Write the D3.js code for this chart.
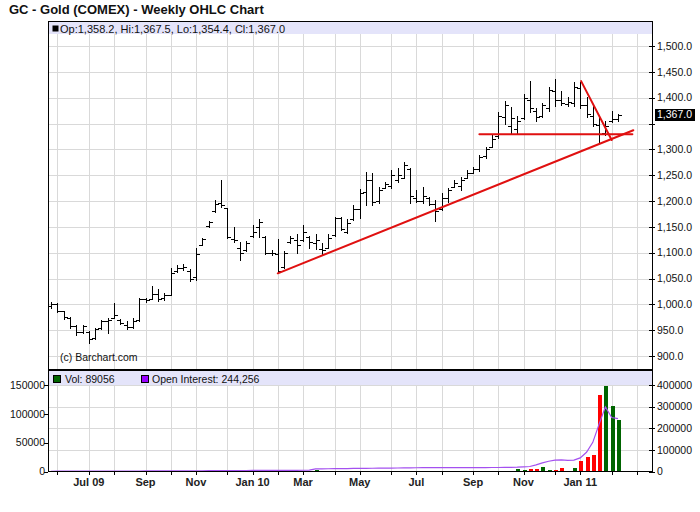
<!DOCTYPE html>
<html>
<head>
<meta charset="utf-8">
<script src="https://cdn.jsdelivr.net/npm/d3@7"></script>
<style>
  body { margin: 0; background: #fff; }
  svg text { font-family: "Liberation Sans", Arial, sans-serif; }
</style>
</head>
<body>
<div id="chart"></div>
<script>
// weekly bars, dated on the monday of each week
var firstWeek = new Date(2009, 4, 25),
    lastWeek = new Date(2011, 1, 14);

var opens = [996,1000,987,974,958,946,947,935,955,968,974,970,960,957,970,1010,1010,1020,1012,1018,
  1064,1070,1064,1052,1114,1152,1180,1196,1186,1126,1110,1106,1132,1150,1130,1100,1098,1072,1120,1125,
  1125,1130,1118,1108,1110,1135,1168,1140,1165,1185,1218,1240,1200,1226,1230,1240,1245,1262,1205,1200,
  1205,1195,1185,1205,1228,1230,1245,1255,1262,1288,1305,1325,1362,1345,1340,1360,1395,1375,1365,1380,
  1412,1395,1388,1390,1418,1385,1365,1348,1332,1355,1358.2];
var highs = [1004,1003,988,975,960,960,948,955,970,973,1003,971,967,973,1013,1013,1036,1030,1022,1071,
  1076,1078,1068,1110,1129,1162,1201,1241,1186,1149,1120,1122,1153,1165,1133,1106,1127,1104,1133,1137,
  1153,1133,1137,1118,1137,1170,1170,1165,1192,1223,1256,1254,1227,1236,1260,1264,1275,1264,1221,1227,
  1207,1202,1215,1225,1240,1246,1260,1266,1290,1305,1328,1372,1393,1381,1365,1407,1432,1380,1390,1421,
  1436,1413,1402,1430,1430,1401,1383,1363,1354,1374,1367.5];
var lows = [993,985,972,955,940,944,925,932,953,944,973,961,952,955,967,1004,1010,1006,1008,1018,
  1062,1066,1045,1048,1114,1150,1178,1188,1128,1120,1085,1104,1130,1130,1098,1096,1060,1071,1119,1100,
  1123,1110,1108,1098,1110,1133,1143,1139,1163,1167,1192,1192,1196,1225,1225,1236,1244,1196,1198,1196,
  1192,1162,1182,1198,1227,1221,1244,1254,1258,1284,1305,1322,1350,1332,1332,1358,1372,1355,1362,1374,
  1383,1385,1383,1383,1380,1362,1345,1315,1328,1352,1354.4];
var closes = [1000,987,975,958,946,958,933,952,968,970,980,963,956,968,1010,1008,1020,1010,1018,1060,
  1070,1072,1050,1098,1127,1160,1195,1192,1130,1125,1100,1118,1140,1160,1100,1100,1065,1100,1128,1115,
  1140,1120,1125,1105,1128,1168,1145,1158,1185,1215,1240,1198,1222,1232,1250,1250,1270,1210,1200,1210,
  1195,1180,1205,1222,1235,1240,1255,1262,1285,1300,1320,1365,1385,1360,1355,1400,1380,1362,1385,1415,
  1395,1390,1392,1420,1385,1368,1350,1330,1346,1358,1367.0];
var volumes = [40,30,60,50,25,80,45,60,30,90,70,55,40,85,120,60,75,90,50,140,
  80,65,110,160,95,130,150,220,180,120,140,100,160,130,190,110,260,150,170,140,
  200,700,1800,350,300,420,380,300,450,520,600,480,400,350,500,1600,600,1400,450,380,
  420,560,480,390,420,510,450,600,700,650,800,1100,1300,1500,4600,2900,3500,3500,7400,3000,
  3000,5700,1700,5700,17700,25900,29300,132700,148300,113800,89056];
var openInterest = [1200,1300,1400,1500,1500,1600,1700,1800,1900,2000,2000,2100,2200,2300,2400,2500,2600,2700,2800,2900,
  3000,3100,3200,3300,3500,3600,3800,4000,4100,4200,4400,4600,4800,5000,5100,5200,5300,5400,5500,5600,
  5800,6500,12000,12400,12800,13100,13400,13700,14000,14300,14600,15000,15300,15600,15900,16200,16500,16900,17300,17600,
  17700,17800,17800,17900,17900,18000,18000,18100,18200,18300,18400,18600,18900,19300,20000,21500,23000,30800,40000,47400,
  53000,53600,51000,52500,63000,88700,134800,219000,299000,249700,244256];

var priceTicks = [900,950,1000,1050,1100,1150,1200,1250,1300,1350,1400,1450,1500];
var volTicks = [0,50000,100000,150000];
var oiTicks = [0,100000,200000,300000,400000];

// hand drawn trend lines: [date, price] -> [date, price]
var trendLines = [
  [["2010-02-01", 1060], ["2011-03-03", 1337]],
  [["2010-09-13", 1329], ["2011-03-02", 1329]],
  [["2011-01-04", 1432], ["2011-02-07", 1318]]
];

var weeks = d3.timeMonday.range(firstWeek, d3.timeDay.offset(lastWeek, 1));
var bars = weeks.map(function(d, i) {
  return {date: d, o: opens[i], h: highs[i], l: lows[i], c: closes[i], v: volumes[i], oi: openInterest[i]};
});
var last = bars[bars.length - 1];

var width = 700, height = 512;
var left = 48, right = 652,
    mainTop = 21, mainBottom = 370,
    volTop = 371, volBottom = 471.5;

var svg = d3.select("#chart")
  .append("svg")
    .attr("width", width)
    .attr("height", height);

var x = d3.scaleTime()
  .domain([firstWeek, lastWeek])
  .range([51, 618]);
var y = d3.scaleLinear().domain([900, 1500]).range([356, 46]);
var yVol = d3.scaleLinear().domain([0, 150000]).range([volBottom, 385]);
var yOI = d3.scaleLinear().domain([0, 400000]).range([volBottom, 385]);

var fmtPrice = d3.format(",.1f");
var px = function(v) { return Math.round(v) + 0.5; };

svg.append("defs").append("clipPath").attr("id", "clipMain")
  .append("rect").attr("x", left).attr("y", mainTop).attr("width", right - left).attr("height", mainBottom - mainTop);

// title
svg.append("text")
  .attr("x", 9).attr("y", 14)
  .style("font-size", "13px").style("font-weight", "bold").attr("fill", "#111")
  .text("GC - Gold (COMEX) - Weekly OHLC Chart");

// month grid: first bar of every month (continued past the last bar)
var gridWeeks = d3.timeMonday.range(firstWeek, new Date(2011, 2, 20));
var monthStarts = gridWeeks.filter(function(d, i) {
  return i > 0 && d.getMonth() !== gridWeeks[i - 1].getMonth() && x(d) < right;
});

var grid = svg.append("g").attr("stroke", "#d9d9d9").attr("stroke-width", 1).attr("shape-rendering", "crispEdges");
grid.selectAll("line.vm").data(monthStarts).enter().append("line")
  .attr("x1", function(d) { return px(x(d)); }).attr("x2", function(d) { return px(x(d)); })
  .attr("y1", mainTop).attr("y2", mainBottom);
grid.selectAll("line.vv").data(monthStarts).enter().append("line")
  .attr("x1", function(d) { return px(x(d)); }).attr("x2", function(d) { return px(x(d)); })
  .attr("y1", volTop).attr("y2", volBottom);
grid.selectAll("line.hp").data(priceTicks).enter().append("line")
  .attr("x1", left).attr("x2", right)
  .attr("y1", function(d) { return px(y(d)); }).attr("y2", function(d) { return px(y(d)); });
grid.selectAll("line.ho").data(oiTicks.slice(1)).enter().append("line")
  .attr("x1", left).attr("x2", right)
  .attr("y1", function(d) { return px(yOI(d)); }).attr("y2", function(d) { return px(yOI(d)); });

// header bands
svg.append("rect").attr("x", left).attr("y", mainTop).attr("width", right - left).attr("height", 13).attr("fill", "#e4e4fa");
svg.append("rect").attr("x", left).attr("y", volTop).attr("width", right - left).attr("height", 14).attr("fill", "#e4e4fa");

// OHLC bars
var ohlc = svg.append("g").attr("stroke", "#000").attr("stroke-width", 1)
  .attr("shape-rendering", "crispEdges").attr("clip-path", "url(#clipMain)");
var bar = ohlc.selectAll("g.bar").data(bars).enter().append("g");
bar.append("line")
  .attr("x1", function(d) { return px(x(d.date)); }).attr("x2", function(d) { return px(x(d.date)); })
  .attr("y1", function(d) { return Math.round(y(d.h)); }).attr("y2", function(d) { return Math.round(y(d.l)) + 1; });
bar.append("line")
  .attr("x1", function(d) { return Math.round(x(d.date)) - 3; }).attr("x2", function(d) { return Math.round(x(d.date)); })
  .attr("y1", function(d) { return px(y(d.o)); }).attr("y2", function(d) { return px(y(d.o)); });
bar.append("line")
  .attr("x1", function(d) { return Math.round(x(d.date)) + 1; }).attr("x2", function(d) { return Math.round(x(d.date)) + 4; })
  .attr("y1", function(d) { return px(y(d.c)); }).attr("y2", function(d) { return px(y(d.c)); });

// trend lines
var parse = d3.timeParse("%Y-%m-%d");
svg.append("g").attr("clip-path", "url(#clipMain)")
  .selectAll("line").data(trendLines).enter().append("line")
  .attr("x1", function(d) { return x(parse(d[0][0])); }).attr("y1", function(d) { return y(d[0][1]); })
  .attr("x2", function(d) { return x(parse(d[1][0])); }).attr("y2", function(d) { return y(d[1][1]); })
  .attr("stroke", "#e01010").attr("stroke-width", 2).attr("stroke-linecap", "round");

svg.append("text").attr("x", 60).attr("y", 361)
  .style("font-size", "10.5px").attr("fill", "#111").text("(c) Barchart.com");

// header text
svg.append("rect").attr("x", 52.5).attr("y", 25.5).attr("width", 6).attr("height", 6).attr("fill", "#000");
svg.append("text").attr("x", 60).attr("y", 29.5).attr("dy", "0.35em")
  .style("font-size", "11px").attr("fill", "#111")
  .text("Op:" + fmtPrice(last.o) + ", Hi:" + fmtPrice(last.h) + ", Lo:" + fmtPrice(last.l) + ", Cl:" + fmtPrice(last.c));

// volume bars
svg.append("g").attr("shape-rendering", "crispEdges")
  .selectAll("rect").data(bars).enter().append("rect")
  .attr("x", function(d) { return Math.round(x(d.date)) - 1.5; })
  .attr("width", 4)
  .attr("y", function(d) { return yVol(d.v); })
  .attr("height", function(d) { return volBottom - yVol(d.v); })
  .attr("fill", function(d) { return d.c >= d.o ? "#006400" : "#ff0000"; });

// open interest
svg.append("path").datum(bars)
  .attr("fill", "none").attr("stroke", "#a450f0").attr("stroke-width", 1.2)
  .attr("d", d3.line().x(function(d) { return x(d.date); }).y(function(d) { return yOI(d.oi); }));

// volume legend
svg.append("rect").attr("x", 53.5).attr("y", 375.5).attr("width", 7).attr("height", 7)
  .attr("fill", "#006400").attr("stroke", "#000");
svg.append("text").attr("x", 65).attr("y", 382.5).style("font-size", "10.5px").attr("fill", "#111")
  .text("Vol: " + last.v);
svg.append("rect").attr("x", 141.5).attr("y", 375.5).attr("width", 7).attr("height", 7)
  .attr("fill", "#9900ff").attr("stroke", "#000");
svg.append("text").attr("x", 152).attr("y", 382.5).style("font-size", "10.5px").attr("fill", "#111")
  .text("Open Interest: " + d3.format(",")(last.oi));

// frame
var frame = svg.append("g").attr("stroke", "#000").attr("shape-rendering", "crispEdges");
frame.append("line").attr("x1", left).attr("x2", right).attr("y1", mainTop + 0.5).attr("y2", mainTop + 0.5);
frame.append("line").attr("x1", left + 0.5).attr("x2", left + 0.5).attr("y1", mainTop).attr("y2", volBottom);
frame.append("line").attr("x1", right + 0.5).attr("x2", right + 0.5).attr("y1", mainTop).attr("y2", volBottom);
frame.append("line").attr("x1", left).attr("x2", right + 1).attr("y1", 370).attr("y2", 370).attr("stroke-width", 2);
frame.append("line").attr("x1", left).attr("x2", right + 1).attr("y1", volBottom).attr("y2", volBottom).attr("stroke-width", 1.5);

// right price axis
var yAxis = svg.append("g").style("font-size", "10.5px");
var lastY = y(last.c);
yAxis.selectAll("line").data(priceTicks).enter().append("line")
  .attr("x1", right - 3).attr("x2", right + 3)
  .attr("y1", function(d) { return px(y(d)); }).attr("y2", function(d) { return px(y(d)); })
  .attr("stroke", "#000").attr("shape-rendering", "crispEdges");
yAxis.selectAll("text").data(priceTicks.filter(function(d) { return Math.abs(y(d) - lastY) > 11; }))
  .enter().append("text")
  .attr("x", right + 5).attr("y", function(d) { return y(d); }).attr("dy", "0.35em")
  .attr("fill", "#111").text(fmtPrice);
yAxis.append("rect").attr("x", right + 3).attr("y", Math.round(lastY) - 6).attr("width", 40).attr("height", 12).attr("fill", "#000");
yAxis.append("text").attr("x", right + 5).attr("y", lastY).attr("dy", "0.35em")
  .attr("fill", "#fff").text(fmtPrice(last.c));

// volume axes
var vAxis = svg.append("g").style("font-size", "10.5px").attr("fill", "#111");
vAxis.selectAll("line").data(volTicks).enter().append("line")
  .attr("x1", left - 4).attr("x2", left)
  .attr("y1", function(d) { return px(yVol(d)); }).attr("y2", function(d) { return px(yVol(d)); })
  .attr("stroke", "#000").attr("shape-rendering", "crispEdges");
vAxis.selectAll("text").data(volTicks).enter().append("text")
  .attr("x", left - 3).attr("y", function(d) { return yVol(d); }).attr("dy", "0.35em")
  .attr("text-anchor", "end").text(function(d) { return d; });
var oAxis = svg.append("g").style("font-size", "10.5px").attr("fill", "#111");
oAxis.selectAll("line").data(oiTicks).enter().append("line")
  .attr("x1", right - 3).attr("x2", right + 3)
  .attr("y1", function(d) { return px(yOI(d)); }).attr("y2", function(d) { return px(yOI(d)); })
  .attr("stroke", "#000").attr("shape-rendering", "crispEdges");
oAxis.selectAll("text").data(oiTicks).enter().append("text")
  .attr("x", right + 5).attr("y", function(d) { return yOI(d); }).attr("dy", "0.35em")
  .text(function(d) { return d; });

// time axis, label every other month
var labelMonths = monthStarts.filter(function(d) { return d.getMonth() % 2 === 0 && x(d) < 620; });
var xAxis = svg.append("g").style("font-size", "11px").style("font-weight", "bold").attr("fill", "#222");
xAxis.selectAll("line").data(monthStarts).enter().append("line")
  .attr("x1", function(d) { return px(x(d)); }).attr("x2", function(d) { return px(x(d)); })
  .attr("y1", volBottom).attr("y2", volBottom + 3)
  .attr("stroke", "#000").attr("shape-rendering", "crispEdges");
xAxis.selectAll("text").data(labelMonths).enter().append("text")
  .attr("x", function(d) { return x(d); }).attr("y", 486)
  .attr("text-anchor", "middle")
  .text(function(d, i) {
    return (i === 0 || d.getMonth() === 0) ? d3.timeFormat("%b %y")(d) : d3.timeFormat("%b")(d);
  });
</script>
</body>
</html>
